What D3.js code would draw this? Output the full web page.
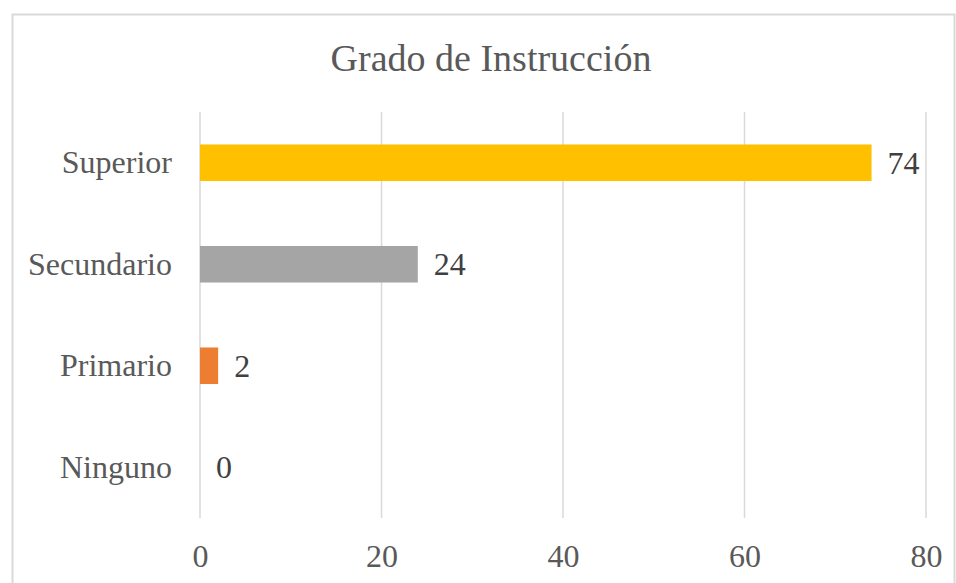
<!DOCTYPE html>
<html>
<head>
<meta charset="utf-8">
<script src="https://d3js.org/d3.v7.min.js"></script>
<style>
  body { margin: 0; background: #fff; }
  svg { display: block; }
  svg text { font-family: "Liberation Serif", "Times New Roman", Times, serif; }
</style>
</head>
<body>
<svg id="chart" width="956" height="583"></svg>
<script>
var categories = ["Superior", "Secundario", "Primario", "Ninguno"];
var values = [74, 24, 2, 0];
var colors = ["#ffc000", "#a5a5a5", "#ed7d31", "#4472c4"];
var ticks = [0, 20, 40, 60, 80];

var svg = d3.select("#chart");

// chart frame
svg.append("rect")
    .attr("x", 12.5).attr("y", 14.5)
    .attr("width", 942).attr("height", 580)
    .attr("fill", "#fff")
    .attr("stroke", "#d9d9d9")
    .attr("stroke-width", 2);

svg.append("text")
    .attr("x", 491).attr("y", 71)
    .attr("text-anchor", "middle")
    .attr("font-size", 38)
    .attr("fill", "#595959")
    .text("Grado de Instrucción");

var x = d3.scaleLinear().domain([0, 80]).range([200, 926]);
var y = d3.scaleBand().domain(categories).range([112, 518]).paddingInner(0.64).paddingOuter(0.32);

// gridlines
svg.append("g").selectAll("line")
    .data(ticks)
    .enter().append("line")
    .attr("x1", d => x(d)).attr("x2", d => x(d))
    .attr("y1", 112).attr("y2", 518)
    .attr("stroke", "#d9d9d9")
    .attr("stroke-width", 1.5);

// bars
svg.append("g").selectAll("rect")
    .data(categories)
    .enter().append("rect")
    .attr("x", x(0))
    .attr("y", d => y(d))
    .attr("width", (d, i) => x(values[i]) - x(0))
    .attr("height", y.bandwidth())
    .attr("fill", (d, i) => colors[i]);

// value labels
svg.append("g").selectAll("text")
    .data(categories)
    .enter().append("text")
    .attr("x", (d, i) => x(values[i]) + 16)
    .attr("y", d => y(d) + y.bandwidth() / 2)
    .attr("dy", "0.35em")
    .attr("font-size", 32)
    .attr("fill", "#404040")
    .text((d, i) => values[i]);

// category axis labels
var yAxis = d3.axisLeft(y).tickSize(0).tickPadding(28);
var gy = svg.append("g").attr("transform", "translate(" + x(0) + ",0)").call(yAxis);
gy.attr("font-family", null).attr("font-size", null);
gy.select(".domain").remove();
gy.selectAll("text")
    .attr("font-size", 32)
    .attr("fill", "#595959");

// value axis labels
var xAxis = d3.axisBottom(x).tickValues(ticks).tickSize(0).tickPadding(26);
var gx = svg.append("g").attr("transform", "translate(0,518)").call(xAxis);
gx.attr("font-family", null).attr("font-size", null);
gx.select(".domain").remove();
gx.selectAll("text")
    .attr("font-size", 32)
    .attr("fill", "#595959");
</script>
</body>
</html>
